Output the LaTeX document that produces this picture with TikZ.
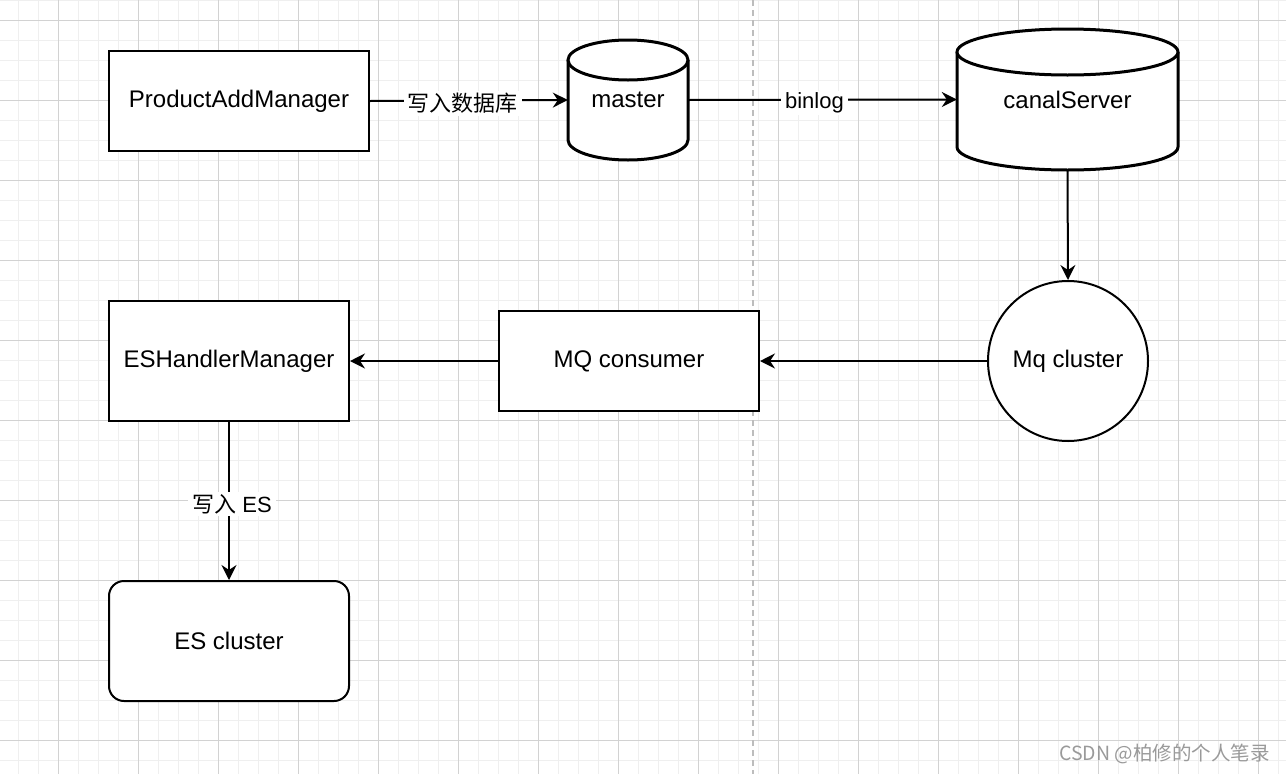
\documentclass[tikz,border=0pt]{standalone}
\usepackage{fontspec}
\setmainfont{Liberation Sans}
\newfontfamily\cjk{Noto Sans CJK SC}
\usetikzlibrary{arrows.meta}
\definecolor{gridminor}{HTML}{EFEFEF}
\definecolor{gridmajor}{HTML}{D2D2D2}
\definecolor{dashgray}{HTML}{BDBDBD}
\definecolor{wmgray}{HTML}{9A9A9A}
\tikzset{
  minorline/.style={gridminor,line width=1pt},
  majorline/.style={gridmajor,line width=1pt},
  boxst/.style={draw=black,line width=2pt,fill=white,rectangle,font=\fontsize{24}{28}\selectfont},
  cylnode/.style={rectangle,inner sep=0pt,font=\fontsize{24}{28}\selectfont},
  cylst/.style={draw=black,line width=3pt,fill=white},
  edge/.style={draw=black,line width=2pt,-{Stealth[length=15pt,width=15pt,inset=5pt]}},
  lbl/.style={fill=white,inner xsep=4pt,inner ysep=2pt,font=\fontsize{22}{26}\selectfont}
}
\begin{document}
\begin{tikzpicture}[x=1pt,y=-1pt]
\useasboundingbox (0,0) rectangle (1286,774);
\fill[white] (0,0) rectangle (1286,774);
% grid
\foreach \x in {18,38,...,1286} \draw[minorline] (\x,0) -- (\x,774);
\foreach \y in {0,20,...,774} \draw[minorline] (0,\y) -- (1286,\y);
\foreach \x in {58,138,...,1286} \draw[majorline] (\x,0) -- (\x,774);
\foreach \y in {20,100,...,774} \draw[majorline] (0,\y) -- (1286,\y);
% dashed separator
\draw[dashgray,line width=2pt,dash pattern=on 6pt off 4pt] (753,0) -- (753,774);

% cylinders
\path[cylst] (568,60) -- (568,140) .. controls (568,151.05) and (594.9,160) .. (628,160) .. controls (661.1,160) and (688,151.05) .. (688,140) -- (688,60);
\path[cylst] (628,60) ellipse [x radius=60,y radius=20];
\path[cylst] (957,52) -- (957,147) .. controls (957,159.7) and (1006.5,170) .. (1067.5,170) .. controls (1128.5,170) and (1178,159.7) .. (1178,147) -- (1178,52);
\path[cylst] (1067.5,52) ellipse [x radius=110.5,y radius=23];

% nodes
\node[boxst,minimum width=260pt,minimum height=100pt] (pam) at (239,101) {\raisebox{-1.5pt}{ProductAddManager}};
\node[cylnode,minimum width=120pt,minimum height=120pt] (master) at (628,100) {\raisebox{-3pt}{master}};
\node[cylnode,minimum width=221pt,minimum height=141pt] (canal) at (1067.5,99.5) {\raisebox{-3pt}{canalServer}};
\node[draw=black,line width=2pt,fill=white,circle,minimum size=160pt,inner sep=0pt,font=\fontsize{24}{28}\selectfont] (mq) at (1068,361) {\raisebox{-1.5pt}{Mq cluster}};
\node[boxst,minimum width=260pt,minimum height=100pt] (cons) at (629,361) {\raisebox{-1.5pt}{MQ consumer}};
\node[boxst,minimum width=240pt,minimum height=120pt] (esh) at (229,361) {\raisebox{-1.5pt}{ESHandlerManager}};
\node[boxst,rounded corners=15pt,minimum width=240pt,minimum height=120pt] (esc) at (229,641) {ES cluster};

% edges
\draw[edge] (pam.east) -- node[lbl,pos=0.47,yshift=-3pt]{\cjk 写入数据库} (master.west);
\draw[edge] (master.east) -- node[lbl,pos=0.47,yshift=-3pt]{binlog} (canal.west);
\draw[edge] (canal.south) -- (mq.north);
\draw[edge] (mq.west) -- (cons.east);
\draw[edge] (cons.west) -- (esh.east);
\draw[edge] (esh.south) -- node[lbl,xshift=3pt,yshift=-3pt]{{\cjk 写入} ES} (esc.north);

% watermark
\node[anchor=east,text=wmgray,inner sep=0pt,font=\cjk\fontsize{19.5}{22}\selectfont] (wm) at (1270,754) {CSDN @柏修的个人笔录};
\end{tikzpicture}
\end{document}
